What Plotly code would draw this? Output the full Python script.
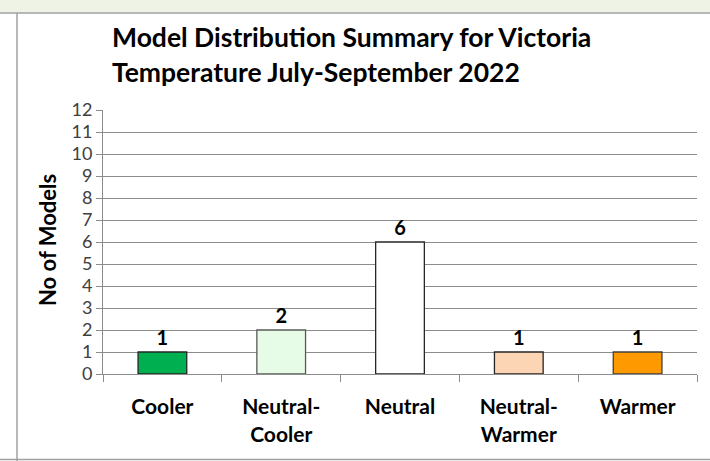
import plotly.graph_objects as go

# chart data
categories = ["Cooler", "Neutral-<br>Cooler", "Neutral", "Neutral-<br>Warmer", "Warmer"]
model_counts = [1, 2, 6, 1, 1]
bar_colors = ["#00B050", "#E6FCE6", "#FFFFFF", "#FCD5B5", "#FF9900"]
edge_colors = ["#262626", "#595959", "#262626", "#262626", "#404040"]
y_ticks = list(range(0, 13))

W, H = 710, 461
# plot area in pixels
L, R, T, B = 103, 697, 110, 374


def px(x):
    return (x - L) / (R - L)


def py(y):
    return (B - y) / (B - T)


fig = go.Figure()

fig.add_trace(go.Bar(
    x=categories,
    y=model_counts,
    marker=dict(color=bar_colors, line=dict(color=edge_colors, width=1.3)),
    text=model_counts,
    texttemplate="<b>%{text}</b>",
    textposition="outside",
    textfont=dict(family="Lato", size=20, color="#000000"),
    cliponaxis=False,
    width=0.41,
))

# frame of the page around the chart
shapes = [
    dict(type="rect", xref="paper", yref="paper", x0=px(0), x1=px(W), y0=py(0), y1=py(12.5),
         fillcolor="#EEF3E6", line=dict(width=0), layer="below"),
    dict(type="line", xref="paper", yref="paper", x0=px(0), x1=px(W), y0=py(13), y1=py(13),
         line=dict(color="#A0A0A0", width=1.5)),
    dict(type="line", xref="paper", yref="paper", x0=px(17), x1=px(17), y0=py(13), y1=py(461),
         line=dict(color="#A0A0A0", width=1.5)),
    dict(type="line", xref="paper", yref="paper", x0=px(0), x1=px(W), y0=py(459.5), y1=py(459.5),
         line=dict(color="#A0A0A0", width=1.5)),
]

title_lines = ["Model Distribution Summary for Victoria", "Temperature July-September 2022"]
annotations = []
for i, line in enumerate(title_lines):
    annotations.append(dict(
        text="<b>%s</b>" % line, xref="paper", yref="paper",
        x=px(110), y=py(37 + i * 35), xanchor="left", yanchor="middle",
        showarrow=False, font=dict(family="Lato", size=26.5, color="#000000"),
    ))

# y axis title placed by hand
annotations.append(dict(
    text="<b>No of Models</b>", xref="paper", yref="paper",
    x=px(47), y=py(240), xanchor="center", yanchor="middle", textangle=-90,
    showarrow=False, font=dict(family="Lato", size=22, color="#000000"),
))

fig.update_layout(
    width=W, height=H,
    margin=dict(l=L, r=W - R, t=T, b=H - B),
    paper_bgcolor="white",
    plot_bgcolor="white",
    showlegend=False,
    shapes=shapes,
    annotations=annotations,
    font=dict(family="Lato"),
)

fig.update_xaxes(
    type="category", automargin=False,
    showline=True, linecolor="#8C8C8C", linewidth=1,
    ticks="outside", tickson="boundaries", ticklen=7, tickcolor="#8C8C8C",
    tickfont=dict(family="Lato", size=21, color="#000000"),
    tickprefix="<b>", ticksuffix="</b>",
    ticklabelstandoff=14,
    showgrid=False,
)

fig.update_yaxes(
    range=[0, 12], tickvals=y_ticks, automargin=False,
    showline=True, linecolor="#8C8C8C", linewidth=1,
    ticks="outside", ticklen=6, tickcolor="#8C8C8C",
    tickfont=dict(family="Lato", size=18, color="#404040"),
    showgrid=True, gridcolor="#8C8C8C", gridwidth=1,
    zeroline=False,
)

# drop the page's default body margin so the figure sits at the window corner
fig.write_html("out.html", config={"displayModeBar": False},
               post_script="document.body.style.margin='0';")
